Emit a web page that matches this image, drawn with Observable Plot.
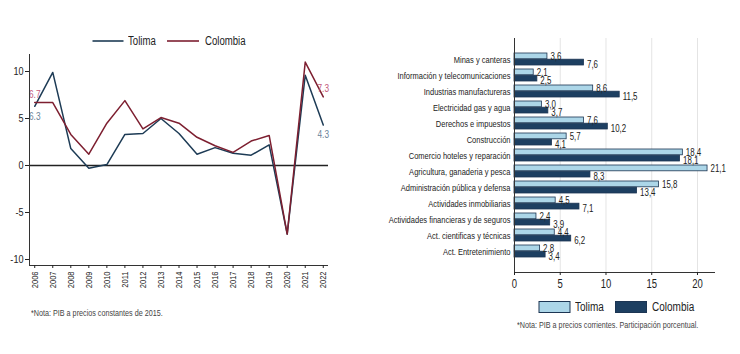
<!DOCTYPE html>
<html><head><meta charset="utf-8">
<script src="https://cdn.jsdelivr.net/npm/d3@7"></script>
<script src="https://cdn.jsdelivr.net/npm/@observablehq/plot@0.6"></script>
<style>
body{margin:0;background:#fff;font-family:"Liberation Sans",Arial,sans-serif;color:#222;}
#wrap{position:relative;width:740px;height:354px;overflow:hidden;background:#fff;}
.abs{position:absolute;}
.cond{position:absolute;white-space:nowrap;transform:scaleX(0.8);transform-origin:left center;line-height:1;}
.note{font-size:8.5px;color:#444;}
</style></head><body><div id="wrap"></div>
<script>
const FONT = '"Liberation Sans",Arial,sans-serif';
const SQUEEZE = 0.79;

// ---- Left chart data: crecimiento del PIB (%)
const years = [2006,2007,2008,2009,2010,2011,2012,2013,2014,2015,2016,2017,2018,2019,2020,2021,2022];
const tolimaGrowth   = [6.3, 9.9, 1.8, -0.3, 0.1, 3.3, 3.4, 5.0, 3.4, 1.2, 1.9, 1.3, 1.1, 2.2, -7.3, 9.6, 4.3];
const colombiaGrowth = [6.7, 6.7, 3.3, 1.2, 4.5, 6.9, 3.9, 5.1, 4.5, 3.0, 2.1, 1.4, 2.6, 3.2, -7.3, 11.0, 7.3];
const yTicksLeft = [-10, -5, 0, 5, 10];

// ---- Right chart data: participación porcentual
const sectors = [
  "Minas y canteras",
  "Información y telecomunicaciones",
  "Industrias manufactureras",
  "Electricidad gas y agua",
  "Derechos e impuestos",
  "Construcción",
  "Comercio hoteles y reparación",
  "Agricultura, ganaderia y pesca",
  "Administración pública y defensa",
  "Actividades inmobiliarias",
  "Actividades financieras y de seguros",
  "Act. cientificas y técnicas",
  "Act. Entretenimiento"
];
const tolimaShare   = [3.6, 2.1, 8.6, 3.0, 7.6, 5.7, 18.4, 21.1, 15.8, 4.5, 2.4, 4.4, 2.8];
const colombiaShare = [7.6, 2.5, 11.5, 3.7, 10.2, 4.1, 18.1, 8.3, 13.4, 7.1, 3.9, 6.2, 3.4];
const xTicksRight = [0, 5, 10, 15, 20];

const seriesNames = ["Tolima", "Colombia"];
const lineColors = {Tolima: "#1d3b55", Colombia: "#7d1f30"};
const labelColors = {Tolima: "#6c8399", Colombia: "#c35a7c"};
const barFill = {Tolima: "#acd6e8", Colombia: "#1d3f61"};
const barStroke = "#1c3553";

const wrap = document.getElementById("wrap");

function condense(svg, f) {
  svg.querySelectorAll("text").forEach(t => {
    const L = t.getComputedTextLength();
    if (L > 0) {
      t.setAttribute("textLength", (L * f).toFixed(2));
      t.setAttribute("lengthAdjust", "spacingAndGlyphs");
    }
  });
}
function addText(txt, x, yTop, size, color, cls) {
  const s = document.createElement("span");
  s.className = "cond" + (cls ? " " + cls : "");
  s.style.left = x + "px"; s.style.top = yTop + "px";
  s.style.fontSize = size + "px";
  if (color) s.style.color = color;
  s.textContent = txt;
  wrap.appendChild(s);
}

// ---------------- Left: line chart
const tol = years.map((yr, i) => ({year: yr, value: tolimaGrowth[i], series: "Tolima"}));
const col = years.map((yr, i) => ({year: yr, value: colombiaGrowth[i], series: "Colombia"}));
const xMin = 2005.71, xMax = 2022.29, yMin = -10.64, yMax = 11.81;
const endPts = (arr) => [arr[0], arr[arr.length - 1]];

const left = Plot.plot({
  width: 340, height: 262,
  marginLeft: 29, marginRight: 12, marginTop: 6, marginBottom: 45,
  style: {fontFamily: FONT, fontSize: "11px", color: "#222", background: "transparent", overflow: "visible"},
  x: {domain: [xMin, xMax]},
  y: {domain: [yMin, yMax]},
  marks: [
    Plot.ruleY([0], {stroke: "#222", strokeWidth: 1.6}),
    Plot.lineY(tol, {x: "year", y: "value", stroke: lineColors.Tolima, strokeWidth: 1.5}),
    Plot.lineY(col, {x: "year", y: "value", stroke: lineColors.Colombia, strokeWidth: 1.5}),
    Plot.text(endPts(col), {x: "year", y: "value", text: d => d3.format(".1f")(d.value), dy: -8, fill: labelColors.Colombia, fontSize: 10.5}),
    Plot.text(endPts(tol), {x: "year", y: "value", text: d => d3.format(".1f")(d.value), dy: 10, fill: labelColors.Tolima, fontSize: 10.5}),
    Plot.ruleX([xMin], {stroke: "#333", strokeWidth: 1}),
    Plot.ruleY([yMin], {stroke: "#333", strokeWidth: 1}),
    Plot.axisY({ticks: yTicksLeft, tickFormat: d => String(d), tickSize: 4, tickPadding: 2, fontSize: 11.5, label: null}),
    Plot.axisX({ticks: years, tickFormat: d => String(d), tickRotate: -90, tickSize: 3, tickPadding: 3, fontSize: 9.5, label: null})
  ]
});
left.classList.add("abs");
left.style.left = "0px"; left.style.top = "48px";
wrap.appendChild(left);
condense(left, SQUEEZE);

// legend swatches
const legL = document.createElementNS("http://www.w3.org/2000/svg", "svg");
legL.setAttribute("width", "740"); legL.setAttribute("height", "354");
legL.setAttribute("class", "abs"); legL.style.left = "0px"; legL.style.top = "0px"; legL.style.pointerEvents = "none";
legL.innerHTML =
  `<line x1="92.5" x2="123.5" y1="41" y2="41" stroke="${lineColors.Tolima}" stroke-width="1.6"/>` +
  `<line x1="167" x2="199" y1="41" y2="41" stroke="${lineColors.Colombia}" stroke-width="1.6"/>` +
  `<rect x="539" y="301.5" width="31" height="11" fill="${barFill.Tolima}" stroke="${barStroke}" stroke-width="1"/>` +
  `<rect x="615.5" y="301.5" width="31" height="11" fill="${barFill.Colombia}" stroke="${barStroke}" stroke-width="1"/>`;
wrap.appendChild(legL);
addText("Tolima", 128, 35, 12, "#222");
addText("Colombia", 205, 35, 12, "#222");
addText("*Nota: PIB a precios constantes de 2015.", 31, 309, 9, "#444", "note");

// ---------------- Right: grouped horizontal bars
const tolB = sectors.map((s, i) => ({sector: s, value: tolimaShare[i], series: "Tolima"}));
const colB = sectors.map((s, i) => ({sector: s, value: colombiaShare[i], series: "Colombia"}));
const fmtC = v => d3.format(".1f")(v).replace(".", ",");
const half = 6.2;

const right = Plot.plot({
  width: 350, height: 270,
  marginLeft: 134, marginRight: 16, marginTop: 8, marginBottom: 28,
  style: {fontFamily: FONT, fontSize: "11px", color: "#222", background: "transparent", overflow: "visible"},
  x: {domain: [0, 21.86]},
  y: {domain: sectors, paddingInner: 0.25, paddingOuter: 0.67},
  marks: [
    Plot.gridX(xTicksRight.slice(1), {stroke: "#e4e4e4", strokeOpacity: 1}),
    Plot.barX(tolB, {x: "value", y: "sector", fill: barFill.Tolima, stroke: barStroke, strokeWidth: 0.8, insetBottom: half}),
    Plot.barX(colB, {x: "value", y: "sector", fill: barFill.Colombia, stroke: barStroke, strokeWidth: 0.8, insetTop: half}),
    Plot.text(tolB, {x: "value", y: "sector", text: d => fmtC(d.value), dx: 3, dy: -3.2, textAnchor: "start", fontSize: 10, fill: "#222"}),
    Plot.text(colB, {x: "value", y: "sector", text: d => fmtC(d.value), dx: 3, dy: 5.4, textAnchor: "start", fontSize: 10, fill: "#222"}),
    Plot.frame({anchor: "left", stroke: "#333"}),
    Plot.frame({anchor: "bottom", stroke: "#333"}),
    Plot.axisY({tickSize: 0, tickPadding: 4, fontSize: 9.5, label: null}),
    Plot.axisX({ticks: xTicksRight, tickSize: 3, tickPadding: 4, fontSize: 12, label: null})
  ]
});
right.classList.add("abs");
right.style.left = "380px"; right.style.top = "30px";
wrap.appendChild(right);
condense(right, SQUEEZE);

addText("Tolima", 575, 301, 12.5, "#222");
addText("Colombia", 652, 301, 12.5, "#222");
addText("*Nota: PIB a precios corrientes. Participación porcentual.", 517, 321, 9, "#444", "note");
</script>
</body></html>
